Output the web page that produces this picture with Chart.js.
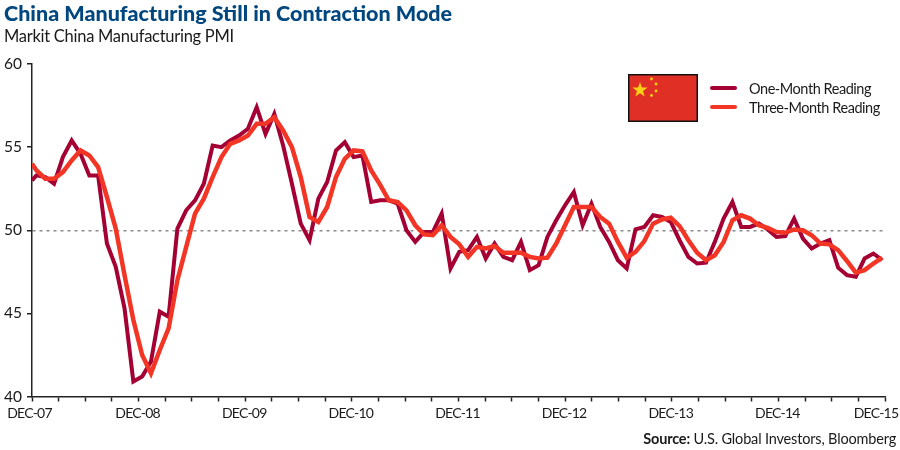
<!DOCTYPE html>
<html>
<head>
<meta charset="utf-8">
<title>China Manufacturing Still in Contraction Mode</title>
<script src="https://cdn.jsdelivr.net/npm/chart.js@4/dist/chart.umd.min.js"></script>
<style>
     html,body{margin:0;padding:0;background:#fff;}
     .wrap{position:relative;width:900px;height:450px;overflow:hidden;font-family:Lato,sans-serif;color:#1a1a1a;}
     canvas{position:absolute;left:0;top:0;}
     .title,.sub,.source,.legend,.flag{position:absolute;white-space:nowrap;}
     .title{left:4px;top:0;font-size:21.5px;line-height:26px;font-weight:900;color:#00467f;}
     .sub{left:4px;top:26px;font-size:16.5px;line-height:20px;letter-spacing:-.27px;}
     .source{right:4px;top:430px;font-size:14.5px;line-height:18px;letter-spacing:-.17px;}
     .flag{left:628px;top:74px;}
     .legend{left:710px;top:79px;font-size:14.5px;line-height:19px;letter-spacing:-.45px;}
     .legend div{position:relative;padding-left:39px;}
     .legend i{position:absolute;left:0;top:7px;width:27px;height:4px;border-radius:2px;}
</style>
</head>
<body>
<div class="wrap">
     <canvas id="pmi" width="900" height="450"></canvas>
     <div class="title">China Manufacturing Still in Contraction Mode</div>
     <div class="sub">Markit China Manufacturing PMI</div>
     <svg class="flag" width="70" height="48" viewBox="0 0 70 48">
          <rect x=".75" y=".75" width="68.5" height="46.5" fill="#e03026" stroke="#111" stroke-width="1.5"/>
          <polygon fill="#fbd116" points="12,8 13.9,13.6 19.6,13.6 15,17 16.7,22.6 12,19.2 7.3,22.6 9,17 4.4,13.6 10.1,13.6"/>
          <circle cx="23.5" cy="5" r="1.4" fill="#fbd116"/>
          <circle cx="28" cy="10" r="1.4" fill="#fbd116"/>
          <circle cx="28" cy="17" r="1.4" fill="#fbd116"/>
          <circle cx="23.5" cy="21.5" r="1.4" fill="#fbd116"/>
     </svg>
     <div class="legend" id="legend"></div>
     <div class="source"><b>Source:</b> U.S. Global Investors, Bloomberg</div>
</div>
<script>
const seriesNames=["One-Month Reading","Three-Month Reading"];
const seriesColors=["#a50034","#f23524"];

const tickLabels=["DEC-07","DEC-08","DEC-09","DEC-10","DEC-11","DEC-12","DEC-13","DEC-14","DEC-15"];
const yTicks=[40,45,50,55,60];

const oneMonth=[
     53.0,53.3,53.2,52.8,54.4,55.4,54.6,53.3,53.3,49.2,47.8,45.3,40.9,41.2,42.1,45.1,
     44.8,50.1,51.2,51.8,52.8,55.1,55.0,55.4,55.7,56.1,57.4,55.8,57.0,55.1,52.8,50.4,
     49.4,51.9,52.9,54.8,55.3,54.4,54.5,51.7,51.8,51.8,51.6,50.0,49.3,49.9,49.9,51.0,
     47.7,48.7,48.8,49.6,48.3,49.2,48.4,48.2,49.3,47.6,47.9,49.6,50.6,51.5,52.3,50.3,
     51.6,50.2,49.3,48.2,47.7,50.05,50.2,50.9,50.8,50.5,49.4,48.4,48.0,48.05,49.3,50.7,
     51.7,50.2,50.2,50.4,50.05,49.6,49.65,50.7,49.5,48.9,49.2,49.4,47.75,47.3,47.2,48.3,
     48.6,48.2
];
const threeMonth=[
     54.0,53.6,53.1,53.1,53.5,54.2,54.8,54.5,53.8,52.0,50.1,47.3,44.6,42.5,41.4,42.8,
     44.1,47.0,49.0,51.0,51.9,53.2,54.4,55.2,55.4,55.7,56.4,56.4,56.8,56.0,55.0,53.2,
     50.8,50.5,51.4,53.2,54.3,54.8,54.75,53.6,52.75,51.8,51.7,51.2,50.3,49.75,49.7,50.3,
     49.6,49.15,48.4,49.0,48.9,49.05,48.65,48.65,48.65,48.4,48.3,48.35,49.2,50.3,51.4,51.4,
     51.4,50.8,50.4,49.3,48.35,48.7,49.35,50.4,50.65,50.75,50.25,49.4,48.65,48.2,48.5,49.3,
     50.6,50.9,50.7,50.3,50.15,49.9,49.85,50.05,50.0,49.7,49.2,49.15,48.8,48.15,47.45,47.6,
     48.0,48.35
];

// readings sit about half a month after each tick, first one on the axis
function toPoints(values){
     return values.map((v,i)=>({x:i==0?0:0.5+(i-1)*0.9915,y:v}));
}

document.querySelector("#legend").innerHTML=seriesNames.map((n,i)=>
     '<div><i style="background:'+seriesColors[i]+'"></i>'+n+'</div>').join("");

// the end labels are nudged inwards in the original, so the labels are drawn here
const xLabels={
     id:"xLabels",
     afterDraw(chart){
          const ctx=chart.ctx, x=chart.scales.x;
          ctx.save();
          ctx.font="14px Lato";
          ctx.letterSpacing="-.8px";
          ctx.fillStyle="#1a1a1a";
          ctx.textAlign="center";
          ctx.textBaseline="middle";
          tickLabels.forEach((t,i)=>{
               let nudge=-1;
               if(i==0) nudge=-2.5;
               if(i==tickLabels.length-1) nudge=-9;
               ctx.fillText(t,x.getPixelForValue(i*12)+nudge,413);
          });
          ctx.restore();
     }
};

new Chart(document.querySelector("#pmi"),{
     type:"line",
     data:{
          datasets:[
               {label:seriesNames[1],data:toPoints(threeMonth),borderColor:seriesColors[1],borderWidth:4.5,order:1},
               {label:seriesNames[0],data:toPoints(oneMonth),borderColor:seriesColors[0],borderWidth:4,order:2}
          ]
     },
     options:{
          responsive:false,
          animation:false,
          elements:{point:{radius:0},line:{tension:0}},
          layout:{padding:{top:64,right:15,bottom:33.5,left:0}},
          plugins:{legend:{display:false},title:{display:false},tooltip:{enabled:false}},
          scales:{
               x:{
                    type:"linear",
                    min:0,
                    max:96,
                    afterFit(s){s.height=20;},
                    afterBuildTicks(s){
                         s.ticks=[];
                         for(let m=0;m<=96;m+=3) s.ticks.push({value:m});
                    },
                    grid:{drawOnChartArea:false,tickLength:5,tickColor:"#222",tickWidth:1.5},
                    border:{color:"#222",width:1.5},
                    ticks:{display:false}
               },
               y:{
                    min:40,
                    max:60,
                    afterFit(s){s.width=32;},
                    afterBuildTicks(s){s.ticks=yTicks.map(v=>({value:v}));},
                    grid:{
                         color:c=>c.tick && c.tick.value==50?"#8c8c8c":"transparent",
                         lineWidth:1.5,
                         tickLength:5,
                         tickColor:"#222",
                         tickWidth:1.5
                    },
                    border:{color:"#222",width:1.5,dash:[3,4]},
                    ticks:{color:"#1a1a1a",font:{family:"Lato",size:15.5},padding:5}
               }
          }
     },
     plugins:[xLabels]
});
</script>
</body>
</html>
